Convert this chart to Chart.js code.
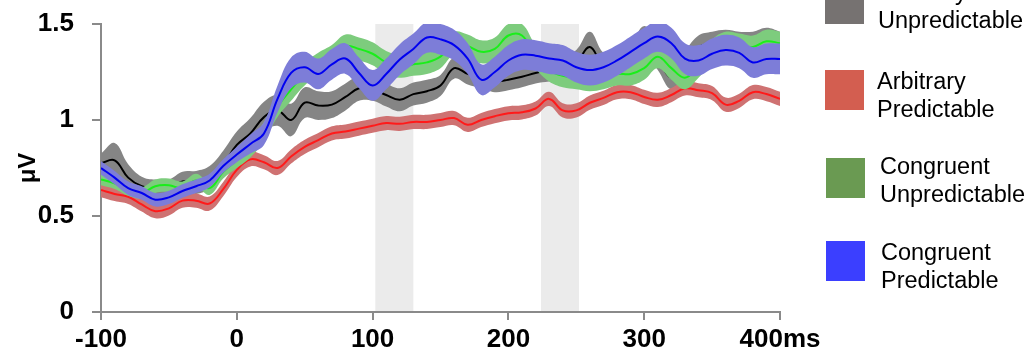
<!DOCTYPE html>
<html>
<head>
<meta charset="utf-8">
<script src="https://cdn.jsdelivr.net/npm/chart.js@4.4.1/dist/chart.umd.min.js"></script>
<style>
  html, body { margin: 0; padding: 0; background: #fff; overflow: hidden; }
  #wrap { position: relative; width: 1032px; height: 358px; }
  #c { position: absolute; left: 0; top: 0; }
  .sw { position: absolute; width: 39px; height: 40px; }
  .tx { position: absolute; white-space: nowrap; font-family: "Liberation Sans", Arial, sans-serif;
        font-size: 23.5px; line-height: 28px; color: #000; }
</style>
</head>
<body>
<div id="wrap">
  <canvas id="c" width="1032" height="358"></canvas>
  <div id="legend"></div>
</div>
<script>
// ---------------- data ----------------
const times = [-100,-90,-80,-70,-60,-50,-40,-30,-20,-10,
               0,10,20,30,40,50,60,70,80,90,
               100,110,120,130,140,150,160,170,180,190,
               200,210,220,230,240,250,260,270,280,290,
               300,310,320,330,340,350,360,370,380,390,
               400];

const seriesNames = [
  ["Arbitrary", "Unpredictable"],
  ["Arbitrary", "Predictable"],
  ["Congruent", "Unpredictable"],
  ["Congruent", "Predictable"]
];

// Arbitrary Unpredictable (black line, gray band)
const arbUnpred = [0.775,0.79,0.70,0.655,0.645,0.645,0.68,0.675,0.70,0.77,
                   0.87,0.93,1.015,1.05,1.00,1.09,1.075,1.08,1.12,1.165,
                   1.16,1.13,1.105,1.135,1.15,1.18,1.27,1.24,1.22,1.20,
                   1.21,1.225,1.245,1.26,1.27,1.30,1.38,1.28,1.27,1.33,
                   1.42,1.33,1.22,1.30,1.38,1.40,1.41,1.40,1.40,1.42,
                   1.40];
const arbUnpredErr = [0.05,0.09,0.07,0.05,0.045,0.045,0.05,0.06,0.06,0.07,
                      0.07,0.08,0.08,0.08,0.085,0.08,0.075,0.07,0.07,0.065,
                      0.06,0.06,0.06,0.06,0.06,0.055,0.055,0.055,0.055,0.055,
                      0.055,0.055,0.055,0.06,0.06,0.065,0.08,0.07,0.06,0.06,
                      0.07,0.07,0.06,0.06,0.06,0.06,0.06,0.06,0.06,0.06,
                      0.06];

// Arbitrary Predictable (red)
const arbPred = [0.635,0.615,0.60,0.56,0.525,0.54,0.58,0.58,0.565,0.64,
                 0.74,0.795,0.78,0.75,0.81,0.86,0.895,0.93,0.94,0.955,
                 0.97,0.984,0.98,0.99,0.99,1.0,1.01,0.975,1.0,1.02,
                 1.035,1.04,1.06,1.11,1.05,1.05,1.09,1.115,1.145,1.145,
                 1.12,1.105,1.13,1.165,1.155,1.14,1.08,1.10,1.145,1.135,
                 1.11];
const arbPredErr = [0.037,0.037,0.037,0.037,0.037,0.037,0.037,0.037,0.037,0.037,
                    0.037,0.037,0.037,0.037,0.037,0.037,0.037,0.037,0.037,0.037,
                    0.037,0.037,0.037,0.037,0.037,0.037,0.037,0.037,0.037,0.037,
                    0.037,0.037,0.037,0.037,0.037,0.037,0.037,0.037,0.037,0.037,
                    0.037,0.037,0.037,0.037,0.037,0.037,0.037,0.037,0.037,0.037,
                    0.037];

// Congruent Unpredictable (green)
const conUnpred = [0.69,0.67,0.635,0.62,0.655,0.66,0.645,0.685,0.645,0.73,
                   0.79,0.85,0.94,1.07,1.16,1.24,1.29,1.33,1.385,1.37,
                   1.345,1.30,1.28,1.29,1.30,1.33,1.40,1.385,1.355,1.37,
                   1.44,1.44,1.33,1.26,1.23,1.22,1.21,1.22,1.24,1.24,
                   1.27,1.33,1.27,1.22,1.28,1.36,1.40,1.39,1.38,1.41,
                   1.40];
const conUnpredErr = [0.03,0.03,0.03,0.03,0.035,0.035,0.035,0.035,0.035,0.035,
                      0.04,0.045,0.05,0.055,0.06,0.06,0.06,0.06,0.06,0.06,
                      0.06,0.06,0.06,0.06,0.06,0.06,0.06,0.06,0.06,0.06,
                      0.06,0.06,0.06,0.06,0.06,0.06,0.06,0.06,0.06,0.06,
                      0.06,0.06,0.06,0.06,0.06,0.06,0.06,0.06,0.06,0.06,
                      0.06];

// Congruent Predictable (blue)
const conPred = [0.75,0.70,0.645,0.62,0.585,0.597,0.63,0.655,0.685,0.76,
                 0.82,0.875,0.93,1.11,1.245,1.275,1.24,1.29,1.32,1.245,
                 1.18,1.24,1.315,1.37,1.43,1.42,1.39,1.32,1.21,1.25,
                 1.31,1.34,1.335,1.32,1.31,1.275,1.26,1.275,1.31,1.355,
                 1.40,1.435,1.40,1.32,1.31,1.345,1.364,1.35,1.30,1.318,
                 1.318];
const conPredErr = [0.035,0.035,0.035,0.035,0.035,0.035,0.035,0.035,0.035,0.035,
                    0.04,0.05,0.06,0.07,0.08,0.08,0.08,0.08,0.08,0.08,
                    0.08,0.08,0.08,0.08,0.08,0.08,0.08,0.08,0.08,0.08,
                    0.08,0.08,0.08,0.08,0.08,0.08,0.08,0.08,0.08,0.08,
                    0.08,0.08,0.08,0.08,0.08,0.08,0.08,0.08,0.08,0.08,
                    0.08];

// significant time windows (ms)
const sigStart = [102, 224];
const sigEnd   = [130, 252];

const xTicks = [-100, 0, 100, 200, 300, 400];
const yTicks = [0, 0.5, 1, 1.5];

// ---------------- styles ----------------
const styles = [
  { line: '#000000', band: '#858585', swatch: '#767271' },
  { line: '#ff1a1a', band: '#cf7272', swatch: '#d35e50' },
  { line: '#1aee1a', band: '#7dcc7d', swatch: '#6a9a52' },
  { line: '#0000f0', band: '#7d7dd8', swatch: '#3b3fff' }
];
const legendPos = [
  { sx: 825, sy: -16, tx: 878, ty: -22 },
  { sx: 825, sy: 70,  tx: 877, ty: 67 },
  { sx: 826, sy: 158, tx: 880, ty: 152 },
  { sx: 826, sy: 241, tx: 881, ty: 238 }
];

const means = [arbUnpred, arbPred, conUnpred, conPred];
const errs  = [arbUnpredErr, arbPredErr, conUnpredErr, conPredErr];

const toPts = (arr, sign, err) => times.map((t, i) => ({ x: t, y: arr[i] + sign * (err ? err[i] : 0) }));

const datasets = [];
means.forEach((m, s) => {
  const base = datasets.length;
  const ord = (means.length - s) * 2;
  datasets.push({ data: toPts(m, 1, errs[s]), borderWidth: 0, pointRadius: 0, tension: 0.4,
                  fill: { target: base + 1 }, backgroundColor: styles[s].band, order: ord });
  datasets.push({ data: toPts(m, -1, errs[s]), borderWidth: 0, pointRadius: 0, tension: 0.4,
                  fill: false, order: ord });
  datasets.push({ data: toPts(m, 0, null), borderColor: styles[s].line, borderWidth: 2, pointRadius: 0,
                  tension: 0.4, fill: false, order: ord - 1 });
});

const shadePlugin = {
  id: 'shade',
  beforeDatasetsDraw(chart) {
    const { ctx, chartArea, scales: { x } } = chart;
    ctx.save();
    ctx.fillStyle = '#ebebeb';
    for (let i = 0; i < sigStart.length; i++) {
      const x0 = x.getPixelForValue(sigStart[i]);
      const x1 = x.getPixelForValue(sigEnd[i]);
      ctx.fillRect(x0, chartArea.top, x1 - x0, chartArea.bottom - chartArea.top - 1);
    }
    ctx.restore();
  }
};

Chart.defaults.font.family = '"Liberation Sans", Arial, sans-serif';
Chart.defaults.color = '#000';

new Chart(document.getElementById('c'), {
  type: 'line',
  data: { datasets },
  options: {
    responsive: false,
    animation: false,
    layout: { padding: { top: 24, right: 252, bottom: 0, left: 0 } },
    plugins: { legend: { display: false }, tooltip: { enabled: false } },
    scales: {
      x: {
        type: 'linear', min: -100, max: 400,
        afterBuildTicks: (sc) => { sc.ticks = xTicks.map(v => ({ value: v })); },
        afterFit: (sc) => { sc.height = 46; sc.paddingLeft = 0; sc.paddingRight = 0; },
        ticks: {
          padding: 4, maxRotation: 0, autoSkip: false,
          font: { size: 26, weight: 'bold' }, color: '#000',
          callback: (v) => (v === 400 ? v + 'ms' : String(v))
        },
        grid: { drawOnChartArea: false, drawTicks: true, tickLength: 8, color: '#8a8a8a', lineWidth: 2 },
        border: { display: true, color: '#8a8a8a', width: 2 }
      },
      y: {
        type: 'linear', min: 0, max: 1.5,
        afterBuildTicks: (sc) => { sc.ticks = yTicks.map(v => ({ value: v })); },
        afterFit: (sc) => { sc.width = 101; sc.paddingTop = 0; sc.paddingBottom = 0; },
        ticks: { padding: 18, font: { size: 26, weight: 'bold' }, color: '#000', callback: (v) => String(v) },
        grid: { drawOnChartArea: false, drawTicks: true, tickLength: 9, color: '#8a8a8a', lineWidth: 2 },
        border: { display: true, color: '#8a8a8a', width: 2 },
        title: { display: true, text: 'μV', color: '#000', font: { size: 24, weight: 'bold' },
                 padding: { top: 14, bottom: 0 } }
      }
    }
  },
  plugins: [shadePlugin]
});

// ---------------- legend (HTML text) ----------------
const leg = document.getElementById('legend');
seriesNames.forEach((name, i) => {
  const p = legendPos[i];
  const sw = document.createElement('div');
  sw.className = 'sw';
  sw.style.left = p.sx + 'px'; sw.style.top = p.sy + 'px';
  sw.style.background = styles[i].swatch;
  leg.appendChild(sw);
  const tx = document.createElement('div');
  tx.className = 'tx';
  tx.style.left = p.tx + 'px'; tx.style.top = p.ty + 'px';
  tx.innerHTML = name.join('<br>');
  leg.appendChild(tx);
});
</script>
</body>
</html>
